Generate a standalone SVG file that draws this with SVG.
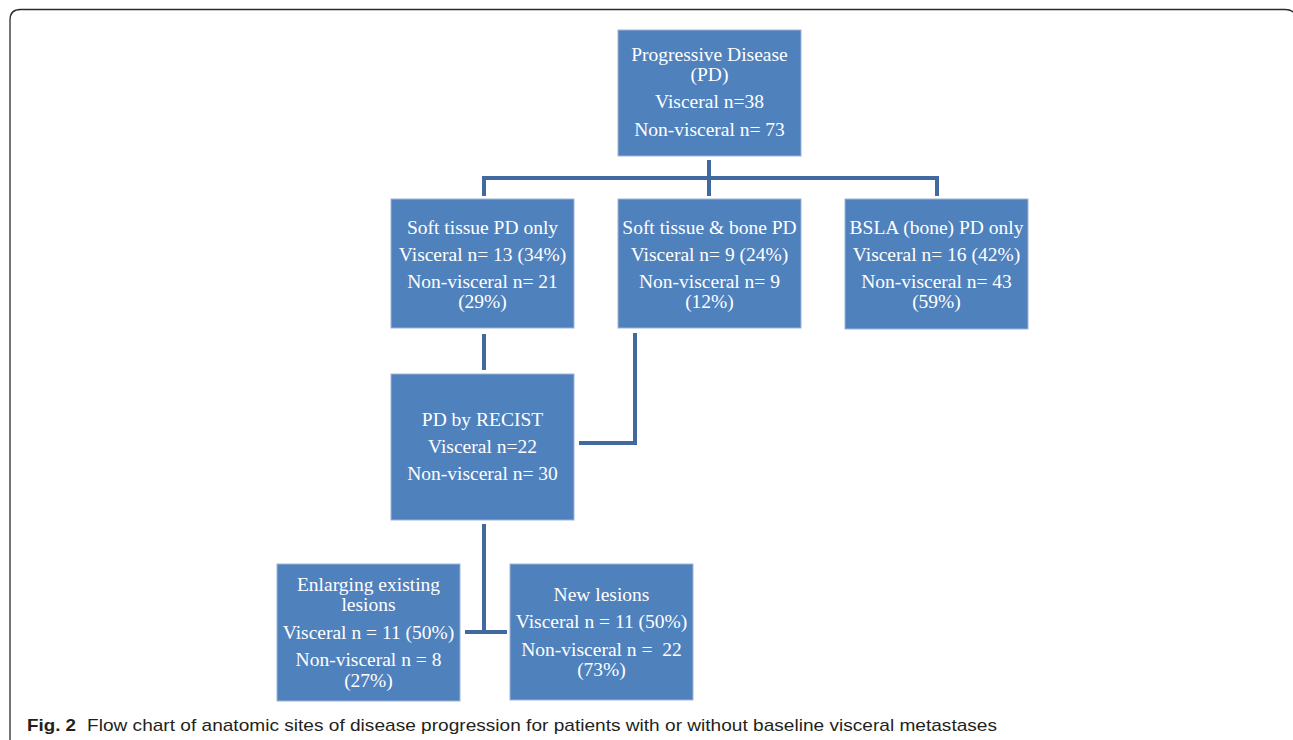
<svg xmlns="http://www.w3.org/2000/svg" width="1293" height="740" viewBox="0 0 1293 740">
<style>
.box{fill:#4F81BD;stroke:#9DB5D8;stroke-width:1}
.t{font-family:"Liberation Serif","Times New Roman",serif;font-size:19.5px;fill:#FFFFFF;text-anchor:middle}
.c{fill:none;stroke:#41699F;stroke-width:4;stroke-linecap:butt;stroke-linejoin:miter}
.cap{font-family:"Liberation Sans",Arial,sans-serif;font-size:17px;fill:#231F20}
</style>
<rect width="1293" height="740" fill="#FFFFFF"/>
<path d="M10,745 L10,20 Q10,9.5 20.5,9.5 L1285,9.5 Q1296,9.5 1296,20 L1296,745" fill="none" stroke="#2B2B2B" stroke-width="1.3"/>
<g id="connectors">
<path class="c" d="M709,160 V178 M484,196 V178 H937 V196 M709,178 V196"/>
<path class="c" d="M484,334 V370"/>
<path class="c" d="M635,333 V443 H579"/>
<path class="c" d="M484,524 V632 M465,632 H507"/>
</g>
<g id="n-pd">
<rect class="box" x="618" y="30" width="183" height="126"/>
<text class="t" x="709.5" y="61">Progressive Disease</text>
<text class="t" x="709.5" y="81">(PD)</text>
<text class="t" x="709.5" y="108">Visceral n=38</text>
<text class="t" x="709.5" y="136">Non-visceral n= 73</text>
</g>
<g id="n-soft">
<rect class="box" x="391" y="199" width="183" height="129"/>
<text class="t" x="482.5" y="234">Soft tissue PD only</text>
<text class="t" x="482.5" y="261">Visceral n= 13 (34%)</text>
<text class="t" x="482.5" y="288">Non-visceral n= 21</text>
<text class="t" x="482.5" y="308">(29%)</text>
</g>
<g id="n-softbone">
<rect class="box" x="618" y="199" width="183" height="129"/>
<text class="t" x="709.5" y="234">Soft tissue &amp; bone PD</text>
<text class="t" x="709.5" y="261">Visceral n= 9 (24%)</text>
<text class="t" x="709.5" y="288">Non-visceral n= 9</text>
<text class="t" x="709.5" y="308">(12%)</text>
</g>
<g id="n-bone">
<rect class="box" x="845" y="199" width="183" height="130"/>
<text class="t" x="936.5" y="234">BSLA (bone) PD only</text>
<text class="t" x="936.5" y="261">Visceral n= 16 (42%)</text>
<text class="t" x="936.5" y="288">Non-visceral n= 43</text>
<text class="t" x="936.5" y="308">(59%)</text>
</g>
<g id="n-recist">
<rect class="box" x="391" y="374" width="183" height="146"/>
<text class="t" x="482.5" y="426">PD by RECIST</text>
<text class="t" x="482.5" y="453">Visceral n=22</text>
<text class="t" x="482.5" y="480">Non-visceral n= 30</text>
</g>
<g id="n-enlarging">
<rect class="box" x="277" y="564" width="183" height="137"/>
<text class="t" x="368.5" y="591">Enlarging existing</text>
<text class="t" x="368.5" y="611">lesions</text>
<text class="t" x="368.5" y="639">Visceral n = 11 (50%)</text>
<text class="t" x="368.5" y="666">Non-visceral n = 8</text>
<text class="t" x="368.5" y="687">(27%)</text>
</g>
<g id="n-new">
<rect class="box" x="510" y="564" width="183" height="136"/>
<text class="t" x="601.5" y="601">New lesions</text>
<text class="t" x="601.5" y="628">Visceral n = 11 (50%)</text>
<text class="t" x="601.5" y="656" xml:space="preserve">Non-visceral n =  22</text>
<text class="t" x="601.5" y="676">(73%)</text>
</g>
<text class="cap" x="27" y="731" font-size="18" font-weight="bold" textLength="49" lengthAdjust="spacingAndGlyphs">Fig. 2</text>
<text class="cap" x="87" y="731" textLength="910" lengthAdjust="spacingAndGlyphs">Flow chart of anatomic sites of disease progression for patients with or without baseline visceral metastases</text>
</svg>
